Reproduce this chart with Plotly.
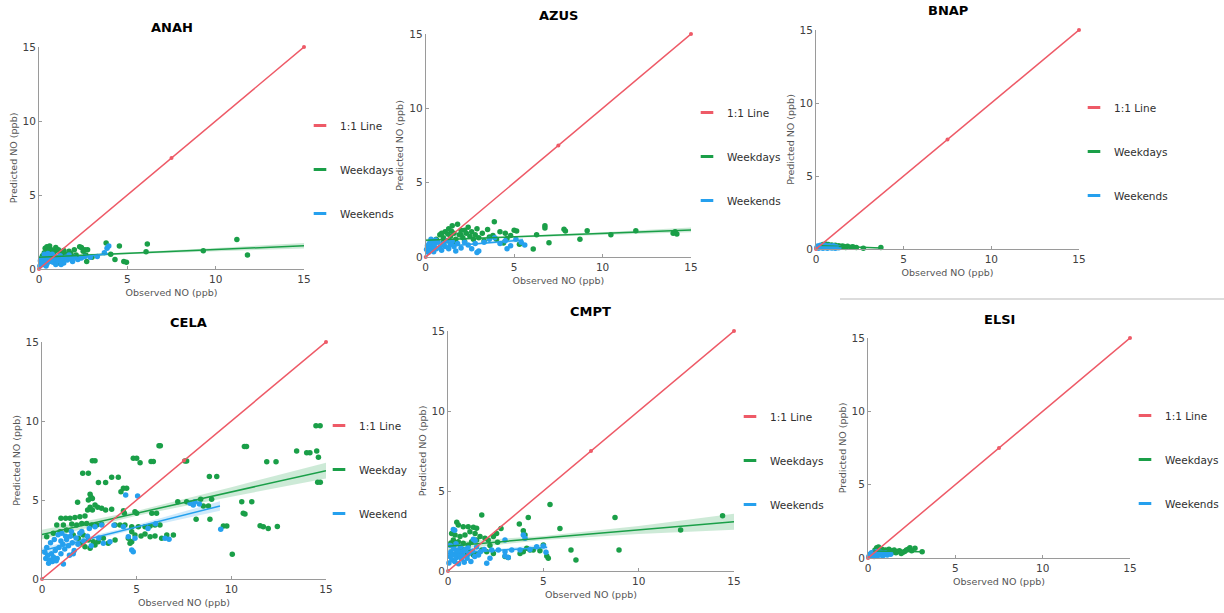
import plotly.graph_objects as go

W, H = 1224, 613
RED = "#ee5a67"
GREEN = "#1a9f48"
BLUE = "#25a0ee"
GREEN_BAND = "rgba(26,159,72,0.22)"
BLUE_BAND = "rgba(37,160,238,0.22)"

# ---------------- data ----------------
one_to_one_x = [0, 7.5, 15]
one_to_one_y = [0, 7.5, 15]

# ANAH
anah_wd_x = [11.2, 11.8, 9.3, 6.13, 6.06, 4.55, 4.95, 4.8, 4.3, 4.06, 3.8, 2.4, 2.6, 2.7, 2.75,
             0.2, 0.3, 0.35, 0.45, 0.6, 0.5, 0.7, 0.8, 0.9, 1.0, 1.1, 1.2, 1.3, 1.4, 1.5, 1.6, 1.7,
             1.8, 1.9, 2.0, 2.1, 0.25, 0.4, 0.55, 0.65, 0.75, 0.85, 1.05, 1.25, 1.45, 2.2, 2.3, 2.5,
             2.65, 3.0, 0.15, 0.95, 1.15]
anah_wd_y = [2.0, 0.95, 1.24, 1.69, 1.17, 1.55, 0.45, 0.5, 0.65, 1.0, 1.75, 1.46, 1.3, 0.5, 1.3,
             0.9, 1.1, 1.4, 1.5, 1.55, 1.2, 1.3, 1.0, 1.2, 0.8, 1.3, 1.1, 0.9, 1.25, 1.0, 0.7, 1.2,
             1.05, 0.85, 1.3, 0.95, 0.6, 0.75, 0.95, 0.6, 0.8, 0.55, 0.6, 0.5, 0.75, 0.7, 1.5, 1.2,
             0.95, 0.8, 0.45, 1.45, 0.4]
anah_we_x = [0.05, 0.1, 0.15, 0.2, 0.25, 0.3, 0.35, 0.4, 0.45, 0.5, 0.55, 0.6, 0.65, 0.7, 0.75, 0.8,
             0.85, 0.9, 0.95, 1.0, 1.1, 1.2, 1.3, 1.4, 1.5, 1.6, 1.7, 1.8, 1.9, 2.0, 2.2, 2.4, 2.6,
             0.3, 0.5, 0.12, 0.08, 2.9, 3.3, 3.7, 3.85, 3.95, 1.25, 0.4]
anah_we_y = [0.2, 0.35, 0.5, 0.3, 0.65, 0.45, 0.8, 0.55, 0.35, 0.7, 0.9, 0.5, 0.75, 0.6, 1.0, 0.45,
             0.85, 0.65, 0.3, 0.75, 0.55, 0.9, 0.65, 0.4, 0.8, 0.6, 0.95, 0.7, 0.5, 0.8, 0.65, 0.75, 0.85,
             1.0, 1.05, 0.7, 0.55, 0.8, 0.85, 1.1, 1.4, 1.55, 0.3, 0.2]
anah_wd_fit_x = [0, 5, 10, 15]
anah_wd_fit_y = [0.8, 1.06, 1.32, 1.57]
anah_wd_fit_ci = [0.12, 0.06, 0.1, 0.18]
anah_we_fit_x = [0, 2, 3.9]
anah_we_fit_y = [0.45, 0.75, 1.03]
anah_we_fit_ci = [0.08, 0.05, 0.1]

# AZUS
azus_wd_x = [3.88, 6.74, 6.74, 7.82, 7.9, 9.13, 10.47, 11.88, 13.99, 14.2, 14.1, 8.72, 6.97, 6.08, 5.14,
             5.0, 6.27, 4.5, 4.2, 4.8, 3.5, 3.2, 2.9, 2.6, 2.4, 2.2, 2.0, 4.4, 5.3,
             0.6, 0.8, 1.0, 1.1, 1.2, 1.3, 1.4, 1.5, 1.6, 1.7, 1.8, 1.9, 2.0, 2.1, 2.3, 2.5, 2.7, 2.8,
             3.0, 3.3, 3.6, 1.0, 1.25, 1.55, 0.9, 1.45, 2.2, 3.8, 4.0, 4.6]
azus_wd_y = [2.37, 2.1, 1.95, 1.86, 1.75, 1.77, 1.5, 1.77, 1.6, 1.55, 1.7, 1.19, 0.96, 0.54, 1.75,
             1.8, 1.5, 1.6, 1.7, 1.45, 1.85, 1.6, 1.9, 1.7, 2.0, 1.8, 1.5, 0.95, 0.85,
             1.2, 1.5, 1.3, 1.7, 1.1, 1.9, 1.4, 2.1, 1.6, 1.2, 2.2, 1.5, 1.8, 1.3, 1.6, 1.4, 1.2, 1.5,
             1.3, 1.1, 1.35, 1.0, 1.55, 1.0, 1.6, 1.75, 1.05, 1.45, 1.2, 1.25]
azus_we_x = [0.05, 0.1, 0.15, 0.2, 0.25, 0.3, 0.35, 0.4, 0.45, 0.5, 0.6, 0.7, 0.8, 0.9, 1.0, 1.1, 1.2,
             1.3, 1.4, 1.5, 1.6, 1.8, 2.0, 2.2, 2.4, 2.6, 2.8, 3.0, 3.3, 3.6, 3.9, 4.2, 4.5, 4.8, 5.1,
             5.4, 5.6, 0.3, 0.55, 2.9, 1.7, 4.6]
azus_we_y = [0.5, 0.75, 0.3, 0.9, 0.6, 0.45, 1.0, 0.7, 0.35, 0.85, 0.55, 1.0, 0.65, 0.45, 0.9, 0.7, 1.1,
             0.55, 0.85, 1.05, 0.7, 0.9, 0.6, 1.0, 0.8, 0.55, 0.9, 0.4, 1.0, 1.2, 1.3, 0.9, 1.1, 0.75, 1.2,
             1.0, 0.8, 1.2, 1.15, 0.3, 0.4, 0.55]
azus_wd_fit_x = [0, 5, 10, 15]
azus_wd_fit_y = [1.12, 1.35, 1.58, 1.82]
azus_wd_fit_ci = [0.1, 0.05, 0.08, 0.16]
azus_we_fit_x = [0, 2.75, 5.5]
azus_we_fit_y = [0.6, 0.88, 1.15]
azus_we_fit_ci = [0.1, 0.06, 0.14]

# BNAP
bnap_wd_x = [0.3, 0.4, 0.5, 0.6, 0.7, 0.8, 0.9, 1.0, 1.1, 1.2, 1.3, 1.4, 1.5, 1.6, 1.7, 1.8, 2.0, 2.1,
             2.3, 2.7, 3.7, 0.55, 0.95]
bnap_wd_y = [0.2, 0.3, 0.25, 0.15, 0.3, 0.2, 0.28, 0.18, 0.25, 0.15, 0.22, 0.12, 0.2, 0.17, 0.1, 0.18,
             0.12, 0.15, 0.1, 0.05, 0.1, 0.35, 0.1]
bnap_we_x = [0.05, 0.1, 0.15, 0.2, 0.25, 0.3, 0.35, 0.4, 0.45, 0.5, 0.55, 0.6, 0.65, 0.7, 0.75, 0.8,
             0.85, 0.9, 0.95, 1.0, 1.05, 1.1, 1.15, 1.2, 1.3]
bnap_we_y = [0.1, 0.2, 0.05, 0.15, 0.25, 0.1, 0.2, 0.05, 0.15, 0.25, 0.1, 0.2, 0.05, 0.15, 0.22, 0.1,
             0.18, 0.06, 0.15, 0.22, 0.1, 0.05, 0.15, 0.1, 0.08]
bnap_wd_fit_x = [0.3, 2, 3.7]
bnap_wd_fit_y = [0.22, 0.14, 0.07]
bnap_wd_fit_ci = [0.03, 0.02, 0.04]
bnap_we_fit_x = [0.05, 0.65, 1.3]
bnap_we_fit_y = [0.13, 0.14, 0.13]
bnap_we_fit_ci = [0.02, 0.01, 0.02]

# CELA
cela_wd_x = [4.82, 5.0, 5.18, 5.76, 5.88, 6.18, 6.25, 2.66, 2.8, 2.15, 2.45, 2.98, 3.36, 3.68, 4.03,
             4.3, 4.47, 4.17, 2.54, 2.59, 2.66, 2.45, 1.88, 2.8, 2.94, 2.54, 2.41, 2.66, 3.15, 3.36,
             3.68, 4.3, 4.35, 4.91, 5.0, 7.17,
             1.0, 1.25, 1.48, 1.74, 2.0, 2.27, 0.78, 1.13, 1.57, 1.83, 2.1, 2.36, 2.62, 2.89, 3.15,
             3.86, 4.12, 4.38, 4.74, 5.09, 5.44, 5.71, 5.97, 6.23, 4.74, 4.91, 5.23, 5.44, 5.71, 5.97,
             6.32, 6.59, 6.94, 0.25, 0.6, 0.95, 1.3, 1.65, 1.92, 2.18, 2.45, 2.71, 2.1, 2.27, 2.54, 2.8,
             2.97, 3.24, 3.5, 3.86, 4.56, 4.65, 4.74, 5.8, 6.05,
             7.55, 7.64, 8.84, 9.23, 10.69, 10.8, 11.87, 12.36, 13.45, 13.98, 14.15, 14.51, 14.6,
             14.47, 14.69, 14.56, 14.7, 10.55, 11.08, 10.63, 10.72, 11.52, 11.69, 11.95, 12.43,
             10.05, 9.58, 9.76, 8.87, 8.14, 7.64, 8.38, 8.96, 8.52, 8.79]
cela_wd_y = [7.64, 7.64, 7.36, 7.43, 7.43, 8.44, 8.44, 7.49, 7.49, 6.69, 6.69, 6.1, 6.1, 6.44, 6.44,
             5.74, 5.74, 5.53, 5.36, 5.17, 5.1, 5.0, 4.85, 4.68, 4.54, 4.54, 4.37, 4.37, 4.47, 4.37,
             4.41, 4.32, 4.16, 4.26, 4.16, 4.89,
             3.84, 3.84, 3.84, 3.9, 3.94, 3.99, 3.42, 3.42, 3.48, 3.42, 3.52, 3.52, 3.42, 3.42, 3.46,
             3.42, 3.42, 3.42, 3.31, 3.31, 3.31, 3.35, 3.42, 3.42, 2.99, 2.78, 2.72, 2.85, 2.68, 2.72,
             2.58, 2.78, 2.78, 2.68, 2.89, 2.99, 3.1, 2.78, 2.58, 2.78, 2.47, 2.36, 2.26, 2.04, 1.94, 2.15,
             2.36, 2.58, 2.26, 2.47, 2.58, 2.26, 2.36, 4.16, 4.16,
             7.47, 7.47, 6.48, 6.48, 8.38, 8.38, 7.42, 7.42, 8.1, 7.99, 7.99, 8.1, 7.7,
             9.7, 9.7, 6.12, 6.12, 4.89, 4.89, 4.16, 4.11, 3.37, 3.31, 3.2, 3.33,
             1.56, 3.35, 3.35, 3.78, 3.78, 4.89, 5.04, 5.04, 4.62, 4.62]
cela_we_x = [0.2, 0.3, 0.4, 0.5, 0.6, 0.7, 0.8, 0.9, 1.0, 1.1, 1.2, 1.3, 1.4, 1.5, 1.6, 1.7, 1.8, 1.9,
             2.0, 2.2, 2.4, 2.6, 2.8, 3.0, 3.15, 3.24, 3.59, 0.15, 0.25, 0.45, 0.65, 0.85, 1.05, 1.25,
             0.35, 1.13, 0.55, 0.75, 1.45, 1.65, 1.0, 1.55, 2.1, 2.5,
             4.42, 5.05, 4.74, 4.56, 4.91, 6.5, 6.71, 7.99, 8.31, 7.82, 8.08, 9.44, 4.82, 3.8, 4.3,
             5.6, 6.0]
cela_we_y = [1.3, 1.5, 1.2, 1.6, 1.4, 1.8, 1.3, 2.0, 1.6, 2.2, 1.9, 2.5, 2.1, 2.7, 2.3, 1.8, 2.6, 2.2,
             2.9, 2.4, 2.7, 2.1, 3.3, 2.6, 3.42, 2.26, 2.36, 1.7, 2.0, 2.3, 2.5, 2.8, 2.9, 2.7,
             1.0, 0.95, 1.1, 1.15, 1.5, 1.6, 2.4, 3.0, 3.0, 3.2,
             5.32, 5.25, 1.84, 2.68, 2.58, 2.58, 2.51, 4.68, 4.75, 4.79, 4.89, 3.15, 1.73, 3.4, 3.3,
             3.2, 3.5]
cela_wd_fit_x = [0, 5, 10, 15]
cela_wd_fit_y = [2.81, 4.16, 5.51, 6.86]
cela_wd_fit_ci = [0.3, 0.15, 0.3, 0.5]
cela_we_fit_x = [0, 4.7, 9.4]
cela_we_fit_y = [1.78, 3.2, 4.62]
cela_we_fit_ci = [0.2, 0.12, 0.3]

# CMPT
cmpt_wd_x = [5.35, 8.76, 14.4, 12.2, 5.87, 6.45, 8.97, 6.71, 4.21, 3.74, 3.95, 4.04, 2.78, 2.55, 2.38,
             2.11, 1.77, 0.46, 0.54, 0.8, 1.06, 1.33, 1.5, 0.19, 0.37, 0.63, 0.89, 1.15, 1.42, 0.28,
             0.54, 0.8, 1.06, 1.24, 1.5, 1.68, 1.94, 1.15, 1.33, 1.5, 1.77, 2.03, 2.38, 2.99, 3.16,
             3.78, 3.95, 4.3, 4.82, 5.18, 5.26, 4.13, 4.47, 0.3, 0.7, 1.0, 2.2, 2.6, 0.15, 5.0]
cmpt_wd_y = [4.15, 3.35, 3.46, 2.56, 2.65, 1.31, 1.31, 0.69, 3.35, 2.94, 2.52, 2.25, 2.65, 2.35, 2.15,
             1.94, 3.5, 3.04, 2.88, 2.77, 2.77, 2.73, 2.67, 2.35, 2.25, 2.15, 2.25, 2.46, 2.35, 1.94,
             1.83, 1.73, 1.63, 1.83, 1.94, 2.15, 2.04, 1.21, 1.0, 1.1, 1.31, 1.21, 1.1, 0.9, 0.85,
             1.1, 1.21, 1.31, 1.27, 0.94, 0.79, 1.42, 1.31, 1.6, 1.4, 1.0, 1.6, 1.8, 1.75, 1.62]
cmpt_we_x = [0.28, 0.35, 1.33, 1.42, 2.99, 3.95, 4.04, 5.14, 2.2, 2.03, 3.16, 2.99, 2.29, 2.64, 2.99,
             3.34, 3.78, 4.3, 4.65, 5.0,
             0.05, 0.1, 0.15, 0.2, 0.25, 0.3, 0.35, 0.4, 0.45, 0.5, 0.55, 0.6, 0.65, 0.7, 0.75, 0.8,
             0.9, 1.0, 1.1, 1.2, 1.3, 1.4, 1.5, 1.6, 0.12, 0.42, 0.85, 1.7, 1.9, 1.05]
cmpt_we_y = [2.6, 2.55, 1.98, 1.9, 1.94, 2.25, 2.04, 1.17, 0.79, 0.48, 0.85, 0.94, 1.31, 1.31, 1.21,
             1.31, 1.31, 1.35, 1.52, 1.56,
             0.5, 0.9, 1.2, 0.7, 1.0, 1.4, 0.6, 1.1, 0.85, 1.3, 0.45, 1.0, 1.5, 0.75, 1.2, 0.95,
             1.35, 0.8, 1.1, 0.6, 1.25, 0.9, 1.5, 1.0, 1.6, 1.7, 0.55, 1.2, 1.35, 1.45]
cmpt_wd_fit_x = [0, 5, 10, 15]
cmpt_wd_fit_y = [1.55, 2.06, 2.57, 3.08]
cmpt_wd_fit_ci = [0.25, 0.12, 0.25, 0.5]
cmpt_we_fit_x = [0, 2.6, 5.2]
cmpt_we_fit_y = [1.1, 1.29, 1.48]
cmpt_we_fit_ci = [0.12, 0.08, 0.2]

# ELSI
elsi_wd_x = [0.3, 0.4, 0.5, 0.55, 0.6, 0.7, 0.8, 0.9, 1.0, 1.1, 1.2, 1.3, 1.4, 1.5, 1.6, 1.7, 1.8,
             1.9, 2.0, 2.1, 2.2, 2.3, 2.4, 2.5, 3.1, 0.45, 1.25, 2.69]
elsi_wd_y = [0.35, 0.55, 0.7, 0.45, 0.75, 0.5, 0.6, 0.4, 0.55, 0.45, 0.6, 0.5, 0.4, 0.55, 0.35, 0.45,
             0.5, 0.3, 0.4, 0.45, 0.55, 0.6, 0.7, 0.5, 0.42, 0.3, 0.3, 0.66]
elsi_we_x = [0.05, 0.1, 0.15, 0.2, 0.25, 0.3, 0.35, 0.4, 0.45, 0.5, 0.55, 0.6, 0.65, 0.7, 0.75, 0.8,
             0.85, 0.9, 0.95, 1.0, 1.1, 1.2, 1.3]
elsi_we_y = [0.1, 0.25, 0.15, 0.35, 0.2, 0.4, 0.1, 0.3, 0.2, 0.45, 0.15, 0.3, 0.25, 0.4, 0.2, 0.35,
             0.15, 0.3, 0.25, 0.35, 0.2, 0.3, 0.25]
elsi_wd_fit_x = [0.3, 1.7, 3.1]
elsi_wd_fit_y = [0.48, 0.46, 0.43]
elsi_wd_fit_ci = [0.04, 0.02, 0.05]
elsi_we_fit_x = [0.05, 0.65, 1.3]
elsi_we_fit_y = [0.22, 0.26, 0.3]
elsi_we_fit_ci = [0.03, 0.02, 0.03]

tick_vals = [0, 5, 10, 15]
tick_text = ["0", "5", "10", "15"]

# ---------------- layout description (pixels) ----------------
panels = [
    dict(name="ANAH", box=(39, 304, 47, 269), title=(172, 27), leg=(322, 126),
         labels=("1:1 Line", "Weekdays", "Weekends"),
         wd=(anah_wd_x, anah_wd_y), we=(anah_we_x, anah_we_y),
         wdfit=(anah_wd_fit_x, anah_wd_fit_y, anah_wd_fit_ci),
         wefit=(anah_we_fit_x, anah_we_fit_y, anah_we_fit_ci)),
    dict(name="AZUS", box=(425.7, 691, 34, 257), title=(558, 15), leg=(709, 113),
         labels=("1:1 Line", "Weekdays", "Weekends"),
         wd=(azus_wd_x, azus_wd_y), we=(azus_we_x, azus_we_y),
         wdfit=(azus_wd_fit_x, azus_wd_fit_y, azus_wd_fit_ci),
         wefit=(azus_we_fit_x, azus_we_fit_y, azus_we_fit_ci)),
    dict(name="BNAP", box=(816, 1079, 30, 249), title=(948, 11), leg=(1096, 108),
         labels=("1:1 Line", "Weekdays", "Weekends"),
         wd=(bnap_wd_x, bnap_wd_y), we=(bnap_we_x, bnap_we_y),
         wdfit=(bnap_wd_fit_x, bnap_wd_fit_y, bnap_wd_fit_ci),
         wefit=(bnap_we_fit_x, bnap_we_fit_y, bnap_we_fit_ci)),
    dict(name="CELA", box=(42, 326, 342, 579), title=(188, 322), leg=(341, 426),
         labels=("1:1 Line", "Weekday", "Weekend"),
         wd=(cela_wd_x, cela_wd_y), we=(cela_we_x, cela_we_y),
         wdfit=(cela_wd_fit_x, cela_wd_fit_y, cela_wd_fit_ci),
         wefit=(cela_we_fit_x, cela_we_fit_y, cela_we_fit_ci)),
    dict(name="CMPT", box=(448, 734, 331, 571), title=(590, 311), leg=(752, 417),
         labels=("1:1 Line", "Weekdays", "Weekends"),
         wd=(cmpt_wd_x, cmpt_wd_y), we=(cmpt_we_x, cmpt_we_y),
         wdfit=(cmpt_wd_fit_x, cmpt_wd_fit_y, cmpt_wd_fit_ci),
         wefit=(cmpt_we_fit_x, cmpt_we_fit_y, cmpt_we_fit_ci)),
    dict(name="ELSI", box=(868, 1130, 338, 558), title=(999, 319), leg=(1147, 416),
         labels=("1:1 Line", "Weekdays", "Weekends"),
         wd=(elsi_wd_x, elsi_wd_y), we=(elsi_we_x, elsi_we_y),
         wdfit=(elsi_wd_fit_x, elsi_wd_fit_y, elsi_wd_fit_ci),
         wefit=(elsi_we_fit_x, elsi_we_fit_y, elsi_we_fit_ci)),
]

FONT = "DejaVu Sans"
fig = go.Figure()
annotations = []
layout = dict(width=W, height=H, margin=dict(l=0, r=0, t=0, b=0, autoexpand=False),
              paper_bgcolor="white", plot_bgcolor="white",
              font=dict(family=FONT, color="#404040"))


def band_trace(xs, ys, ci, color, xa, ya):
    upper = [y + c for y, c in zip(ys, ci)]
    lower = [y - c for y, c in zip(ys, ci)]
    return go.Scatter(x=list(xs) + list(xs)[::-1], y=upper + lower[::-1],
                      fill="toself", fillcolor=color, line=dict(width=0),
                      mode="lines", hoverinfo="skip", showlegend=False,
                      xaxis=xa, yaxis=ya)


for i, p in enumerate(panels):
    n = i + 1
    xa = "x" if n == 1 else f"x{n}"
    ya = "y" if n == 1 else f"y{n}"
    lg = "legend" if n == 1 else f"legend{n}"
    x0, x1, ytop, ybot = p["box"]
    axis_common = dict(range=[0, 15], tickvals=tick_vals, ticktext=tick_text,
                       showline=True, linecolor="#9a9a9a", linewidth=1,
                       showgrid=False, zeroline=False, ticks="inside", ticklen=3,
                       tickcolor="#9a9a9a", tickfont=dict(size=10.5, color="#404040"),
                       fixedrange=True, automargin=False)
    layout["xaxis" if n == 1 else f"xaxis{n}"] = dict(
        axis_common, domain=[x0 / W, x1 / W], anchor=ya,
        title=dict(text="Observed NO (ppb)", font=dict(size=9.5, color="#555555"), standoff=5))
    layout["yaxis" if n == 1 else f"yaxis{n}"] = dict(
        axis_common, domain=[1 - ybot / H, 1 - ytop / H], anchor=xa,
        title=dict(text="Predicted NO (ppb)", font=dict(size=9.5, color="#555555"), standoff=3))

    # bands
    fx, fy, fc = p["wdfit"]
    fig.add_trace(band_trace(fx, fy, fc, GREEN_BAND, xa, ya))
    bx, by, bc = p["wefit"]
    fig.add_trace(band_trace(bx, by, bc, BLUE_BAND, xa, ya))

    # scatter points
    fig.add_trace(go.Scatter(x=p["wd"][0], y=p["wd"][1], mode="markers",
                             marker=dict(color=GREEN, size=5.5), showlegend=False,
                             xaxis=xa, yaxis=ya, cliponaxis=False))
    fig.add_trace(go.Scatter(x=p["we"][0], y=p["we"][1], mode="markers",
                             marker=dict(color=BLUE, size=5.5), showlegend=False,
                             xaxis=xa, yaxis=ya, cliponaxis=False))
    # fit lines
    fig.add_trace(go.Scatter(x=fx, y=fy, mode="lines", line=dict(color=GREEN, width=1.5),
                             showlegend=False, xaxis=xa, yaxis=ya))
    fig.add_trace(go.Scatter(x=bx, y=by, mode="lines", line=dict(color=BLUE, width=1.5),
                             showlegend=False, xaxis=xa, yaxis=ya))
    # 1:1 line
    fig.add_trace(go.Scatter(x=one_to_one_x, y=one_to_one_y, mode="lines+markers",
                             line=dict(color=RED, width=1.5), marker=dict(color=RED, size=4),
                             showlegend=False, xaxis=xa, yaxis=ya, cliponaxis=False))

    # legend entries
    for lab, col, grp in zip(p["labels"], [RED, GREEN, BLUE], ["a", "b", "c"]):
        fig.add_trace(go.Scatter(x=[None], y=[None], mode="markers", name=lab,
                                 marker=dict(symbol="line-ew", size=9, color=col,
                                             line=dict(color=col, width=3)),
                                 legend=lg, legendgroup=f"{n}{grp}",
                                 xaxis=xa, yaxis=ya))
    lx, ly = p["leg"]
    layout[lg] = dict(x=(lx - 22) / W, y=1 - (ly - 15) / H, xanchor="left", yanchor="top",
                      bgcolor="rgba(0,0,0,0)", borderwidth=0, tracegroupgap=25,
                      itemclick=False, itemdoubleclick=False,
                      font=dict(size=10.5, color="#303030", family=FONT))

    tx, ty = p["title"]
    annotations.append(dict(text=f"<b>{p['name']}</b>", x=tx / W, y=1 - ty / H,
                            xref="paper", yref="paper", showarrow=False,
                            xanchor="center", yanchor="middle",
                            font=dict(size=13, color="#000000", family=FONT)))

layout["annotations"] = annotations
layout["shapes"] = [dict(type="line", xref="paper", yref="paper",
                         x0=840 / W, x1=1.0, y0=1 - 299 / H, y1=1 - 299 / H,
                         line=dict(color="#d0d0d0", width=1.5))]
layout["showlegend"] = True
fig.update_layout(**layout)
fig.write_html("out.html", config={"displayModeBar": False},
               post_script="document.body.style.margin='0px';document.body.style.overflow='hidden';")
